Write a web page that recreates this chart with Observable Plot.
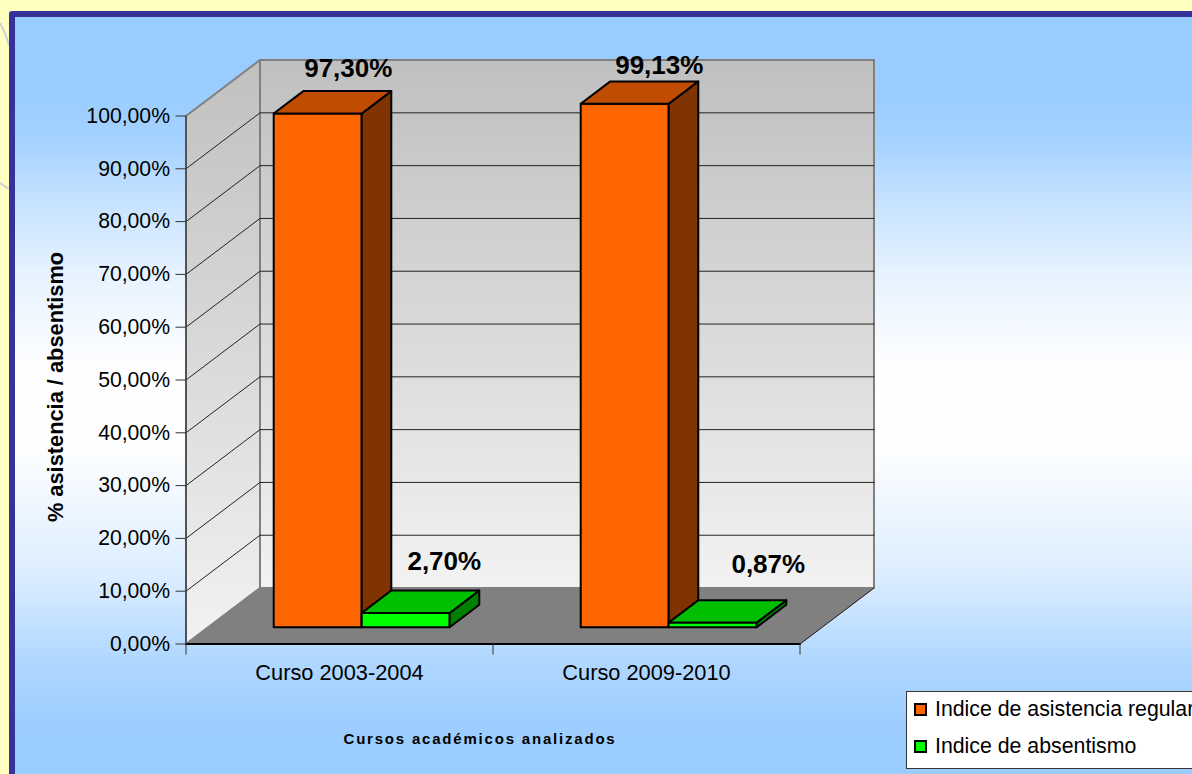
<!DOCTYPE html>
<html lang="es">
<head>
<meta charset="utf-8">
<style>
  html, body { margin: 0; width: 1192px; height: 774px; overflow: hidden; background: #FFFFC0; font-family: "Liberation Sans", Arial, sans-serif; }
  #deco { position: absolute; left: 0; top: 0; }
  #panel { position: absolute; left: 9px; top: 11px; width: 1300px; height: 900px; box-sizing: border-box; border: 6px solid #333399; border-radius: 3px;
           background: linear-gradient(to bottom, rgb(153,204,255) 0px, rgb(155,205,255) 83px, rgb(165,210,255) 123px, rgb(200,227,255) 188px, rgb(229,242,255) 253px, rgb(252,253,255) 340px, #FFFFFF 378px, rgb(253,254,255) 433px, rgb(220,237,255) 558px, rgb(176,215,255) 644px, rgb(158,206,255) 703px, rgb(153,204,255) 757px); }
  #chart { position: absolute; left: 0; top: 0; }
  #legend { position: absolute; left: 906px; top: 691px; width: 320px; height: 78px; box-sizing: border-box; background: #fff; border: 1px solid #333; font-size: 21.3px; color: #000; }
  #legend div { position: absolute; left: 7px; display: flex; align-items: center; white-space: nowrap; height: 24px; }
  #legend i { display: block; width: 9px; height: 9px; border: 2px solid #000; margin-right: 8px; }
</style>
<script src="https://cdn.jsdelivr.net/npm/d3@7"></script>
<script src="https://cdn.jsdelivr.net/npm/@observablehq/plot@0.6"></script>
</head>
<body>
<svg id="deco" width="12" height="220" fill="none" stroke="#D0D0DC" stroke-width="2"><path d="M0 23 Q5 32 9 45"/><path d="M0 183 Q4 186 9 189"/></svg>
<div id="panel"></div>
<div id="chart"></div>
<div id="legend"></div>
<script>
// ---- data ----
const categories = ["Curso 2003-2004", "Curso 2009-2010"];
const asistencia = [97.30, 99.13];
const absentismo = [2.70, 0.87];
const serieNames = ["Indice de asistencia regular", "Indice de absentismo"];
const yTicks = d3.range(0, 101, 10);

// ---- oblique 3-D projection, expressed in scale units ----
const skewX = 0.241;   // one full depth, in category widths
const skewY = 10.6;    // one full depth, in percentage points
const barW = 0.2866, gapW = 0.2134, d0 = 0.3, d1 = 0.7;
const P = (u, d, v) => ({x: u + d * skewX, y: v + d * skewY});
const fmt = v => v.toFixed(2).replace(".", ",") + "%";

const face = (pts, fill, stroke = "#000", strokeWidth = 2) =>
  Plot.line(pts, {x: "x", y: "y", curve: "linear-closed", fill, stroke, strokeWidth});
const edge = (pts, stroke, strokeWidth = 1) =>
  Plot.line(pts, {x: "x", y: "y", stroke, strokeWidth});

function box(u, v, front, side, top) {
  const a = u, b = u + barW;
  return [
    face([P(a, d0, 0), P(b, d0, 0), P(b, d0, v), P(a, d0, v)], front),
    face([P(b, d0, 0), P(b, d1, 0), P(b, d1, v), P(b, d0, v)], side),
    face([P(a, d0, v), P(b, d0, v), P(b, d1, v), P(a, d1, v)], top)
  ];
}

const gradient = () => {
  const ns = "http://www.w3.org/2000/svg";
  const defs = document.createElementNS(ns, "defs");
  const g = document.createElementNS(ns, "linearGradient");
  g.setAttribute("id", "wall");
  g.setAttribute("x1", 0); g.setAttribute("x2", 0); g.setAttribute("y1", 0); g.setAttribute("y2", 1);
  [["0", "#C0C0C0"], ["1", "#F2F2F2"]].forEach(([o, c]) => {
    const s = document.createElementNS(ns, "stop");
    s.setAttribute("offset", o); s.setAttribute("stop-color", c);
    g.appendChild(s);
  });
  defs.appendChild(g);
  return defs;
};

const bars = categories.flatMap((_, i) => {
  const u = i + gapW;
  return [
    ...box(u, asistencia[i], "#FF6600", "#7F3300", "#BF4C00"),
    ...box(u + barW, absentismo[i], "#00FF00", "#008000", "#00BF00")
  ];
});

const valueLabel = (u, v, dx, dy) =>
  Plot.text([P(u + barW / 2, d1, v)], {x: "x", y: "y", text: () => fmt(v), dx, dy,
    fontSize: 26, fontWeight: "bold", fill: "#000", lineAnchor: "middle"});

const chart = Plot.plot({
  width: 1192, height: 774,
  marginLeft: 185.5, marginRight: 392.5, marginTop: 115.5, marginBottom: 130.5,
  style: {background: "transparent", fontFamily: '"Liberation Sans", Arial, sans-serif', color: "#000", overflow: "visible"},
  x: {domain: [0, 2]},
  y: {domain: [0, 100]},
  marks: [
    gradient,
    // walls and floor
    face([P(0, 1, 0), P(2, 1, 0), P(2, 1, 100), P(0, 1, 100)], "url(#wall)", "#808080", 2),
    face([P(0, 0, 0), P(0, 1, 0), P(0, 1, 100), P(0, 0, 100)], "url(#wall)", "#808080", 2),
    // gridlines
    ...yTicks.filter(t => t > 0 && t < 100).map(t =>
      edge([P(0, 0, t), P(0, 1, t), P(2, 1, t)], "#222", 1)),
    face([P(0, 0, 0), P(2, 0, 0), P(2, 1, 0), P(0, 1, 0)], "#808080", "#808080", 1),
    edge([P(2, 0, 0), P(2, 1, 0)], "#222", 1),
    edge([P(0, 0, 0), P(2, 0, 0)], "#000", 2),
    Plot.ruleX([0], {y1: 0, y2: 100, stroke: "#444", strokeWidth: 1.5}),
    // axes
    Plot.axisY({ticks: yTicks, tickSize: 10, tickPadding: 6, fontSize: 21.2, label: null, tickFormat: fmt, stroke: "#333"}),
    Plot.axisX({ticks: [0, 1, 2], tickSize: 11, tickFormat: () => "", label: null, stroke: "#333"}),
    Plot.axisX({ticks: [0.5, 1.5], tickSize: 0, tickPadding: 21, fontSize: 21.8, label: null,
      tickFormat: t => categories[Math.floor(t)]}),
    // bars
    ...bars,
    // value labels
    valueLabel(gapW, asistencia[0], 1, -22),
    valueLabel(1 + gapW, asistencia[1], 5, -16),
    valueLabel(gapW + barW, absentismo[0], 9, -29),
    valueLabel(1 + gapW + barW, absentismo[1], 26, -36),
    // axis titles
    Plot.text(["% asistencia / absentismo"], {frameAnchor: "left", textAnchor: "middle", rotate: -90, dx: -130, dy: 7,
      fontSize: 21.8, fontWeight: "bold", fill: "#000"}),
    Plot.text(["Cursos académicos analizados"], {frameAnchor: "bottom", dx: -13, dy: 100,
      fontSize: 15, fontWeight: "bold", fill: "#000",
      render(index, scales, values, dims, ctx, next) {
        const g = next(index, scales, values, dims, ctx);
        g.style.letterSpacing = "1.8px";
        return g;
      }})
  ]
});
document.getElementById("chart").appendChild(chart);

// legend
const legendEl = document.getElementById("legend");
[["#FF6600", 5], ["#00FF00", 42]].forEach(([c, top], i) => {
  const row = document.createElement("div");
  row.style.top = top + "px";
  const sw = document.createElement("i");
  sw.style.background = c;
  row.appendChild(sw);
  row.appendChild(document.createTextNode(serieNames[i]));
  legendEl.appendChild(row);
});
</script>
</body>
</html>
